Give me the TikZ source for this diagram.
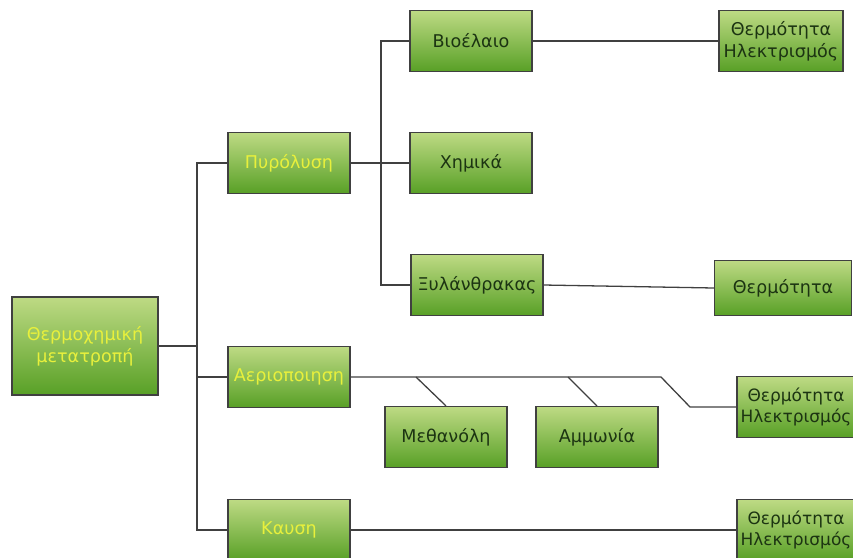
\documentclass[tikz,border=0pt]{standalone}
\usepackage{fontspec}
\setmainfont{DejaVu Sans}
\begin{document}
\begin{tikzpicture}[
  x=0.03cm, y=-0.03cm,
  font=\fontsize{15}{18.5}\selectfont,
  box/.style={draw=black!75, line width=1pt, top color=boxtop,
              bottom color=boxbot, align=center, inner sep=1pt,
              minimum width=3.66cm, minimum height=1.83cm},
  stage/.style={box, text=stagetext},
  product/.style={box, text=prodtext},
  edgebox/.style={product, minimum width=3.54cm,
                  font=\fontsize{14.5}{18}\selectfont},
  line/.style={draw=black!75, line width=1.1pt}
]
\definecolor{boxtop}{RGB}{190,218,132}
\definecolor{boxbot}{RGB}{88,160,38}
\definecolor{stagetext}{RGB}{232,240,60}
\definecolor{prodtext}{RGB}{28,52,18}
\useasboundingbox (0,0) rectangle (853,557);

% first level
\node[stage, minimum width=4.38cm, minimum height=2.94cm] (root) at (85,346) {Θερμοχημική\\μετατροπή};
\node[stage] (pyro) at (289,163) {Πυρόλυση};
\node[stage] (gas) at (289,377) {Αεριοποιηση};
\node[stage] (comb) at (289,530) {Καυση};

% pyrolysis products
\node[product] (bio) at (471,41) {Βιοέλαιο};
\node[product] (chem) at (471,163) {Χημικά};
\node[product, minimum width=3.96cm] (coal) at (477,285) {Ξυλάνθρακας};

% gasification products
\node[product] (meth) at (446,437) {Μεθανόλη};
\node[product] (amm) at (597,437) {Αμμωνία};

% end uses
\node[product, minimum width=3.72cm] (heatel1) at (781,41) {Θερμότητα\\Ηλεκτρισμός};
\node[product, minimum width=4.1cm, minimum height=1.65cm] (heat) at (783,288) {Θερμότητα};
\node[edgebox] (heatel2) at (796,407) {Θερμότητα\\Ηλεκτρισμός};
\node[edgebox] (heatel3) at (796,530) {Θερμότητα\\Ηλεκτρισμός};

% junctions
\coordinate (j1) at (197,346);
\coordinate (j2) at (381,163);
\coordinate (m1) at (416,377);
\coordinate (a1) at (568,377);
\coordinate (k1) at (661,377);
\coordinate (k2) at (690,407);

% main trunk
\draw[line] (root.east) -- (j1);
\draw[line] (pyro.west) -| (j1) |- (comb.west);
\draw[line] (j1) |- (gas.west);

% pyrolysis branch
\draw[line] (pyro.east) -- (chem.west);
\draw[line] (bio.west) -| (j2) |- (coal.west);
\foreach \a/\b in {bio/heatel1, coal/heat, comb/heatel3}
  \draw[line] (\a.east) -- (\b.west);

% gasification bus
\draw[line] (gas.east) -- (k1) -- (k2) -- (heatel2.west);
\draw[line] (m1) -- (meth.north);
\draw[line] (a1) -- (amm.north);
\end{tikzpicture}
\end{document}
